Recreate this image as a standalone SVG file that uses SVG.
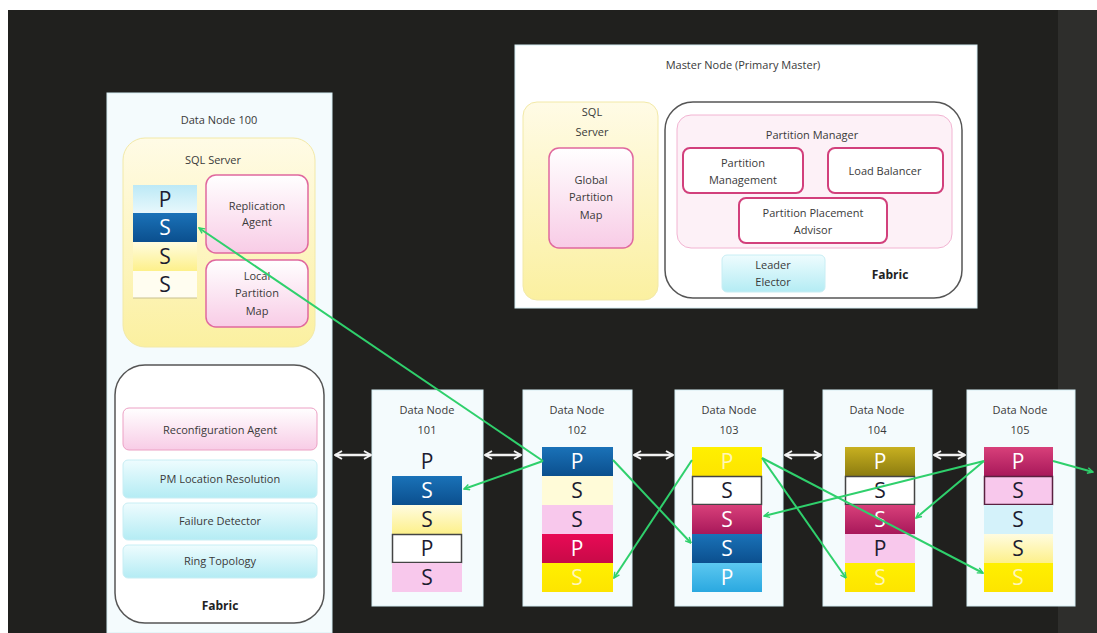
<svg xmlns="http://www.w3.org/2000/svg" width="1097" height="633" viewBox="0 0 1097 633">
<defs>
<style>
.t{font-family:"Open Sans","Liberation Sans",sans-serif;font-size:11px;fill:#3a3a3a;text-anchor:middle}
.tb{font-family:"Open Sans","Liberation Sans",sans-serif;font-size:12px;font-weight:bold;fill:#222;text-anchor:middle}
.L{font-family:"Open Sans","Liberation Sans",sans-serif;font-size:21px;text-anchor:middle;fill:#1c1c30}
.Lw{font-family:"Open Sans","Liberation Sans",sans-serif;font-size:21px;text-anchor:middle;fill:#ffffff}
.Lp{font-family:"Open Sans","Liberation Sans",sans-serif;font-size:21px;text-anchor:middle;fill:#fff6b8}
.node{fill:#f4fbfd;stroke:#d6eef4;stroke-width:1}
.pink{fill:url(#gPink);stroke:#e0689e;stroke-width:1.5}
.pinkW{fill:#ffffff;stroke:#d2407c;stroke-width:2}
.cyan{fill:url(#gCyan);stroke:#c8eef4;stroke-width:1}
.fab{fill:#ffffff;stroke:#555;stroke-width:1.5}
.g{stroke:#2fd06c;stroke-width:2;fill:none;marker-end:url(#ga)}
.w{stroke:#f2f2f2;stroke-width:2.5;fill:none;marker-start:url(#wa);marker-end:url(#wa)}
</style>
<marker id="ga" viewBox="0 0 10 10" refX="9" refY="5" markerWidth="7" markerHeight="7" orient="auto" markerUnits="userSpaceOnUse">
<path d="M1,1 L9,5 L1,9" fill="none" stroke="#2fd06c" stroke-width="2"/>
</marker>
<marker id="wa" viewBox="0 0 10 10" refX="9" refY="5" markerWidth="10" markerHeight="12" orient="auto-start-reverse" markerUnits="userSpaceOnUse">
<path d="M2,1 L9,5 L2,9" fill="none" stroke="#f2f2f2" stroke-width="2"/>
</marker>
<linearGradient id="gYel" x1="0" y1="0" x2="0" y2="1"><stop offset="0" stop-color="#fffbe6"/><stop offset="1" stop-color="#fbf0a0"/></linearGradient>
<linearGradient id="gPink" x1="0" y1="0" x2="0" y2="1"><stop offset="0" stop-color="#ffffff"/><stop offset="1" stop-color="#f8cce6"/></linearGradient>
<linearGradient id="gCyan" x1="0" y1="0" x2="0" y2="1"><stop offset="0" stop-color="#eefcfe"/><stop offset="1" stop-color="#b4ecf4"/></linearGradient>
<linearGradient id="cBlue" x1="0" y1="0" x2="0" y2="1"><stop offset="0" stop-color="#1a72b8"/><stop offset="1" stop-color="#0b4f8e"/></linearGradient>
<linearGradient id="cLY" x1="0" y1="0" x2="0" y2="1"><stop offset="0" stop-color="#fffce0"/><stop offset="1" stop-color="#fdf08a"/></linearGradient>
<linearGradient id="cY" x1="0" y1="0" x2="0" y2="1"><stop offset="0" stop-color="#fff000"/><stop offset="1" stop-color="#fde400"/></linearGradient>
<linearGradient id="cMag" x1="0" y1="0" x2="0" y2="1"><stop offset="0" stop-color="#d8407a"/><stop offset="1" stop-color="#a8185a"/></linearGradient>
<linearGradient id="cRed" x1="0" y1="0" x2="0" y2="1"><stop offset="0" stop-color="#e80a55"/><stop offset="1" stop-color="#c80a48"/></linearGradient>
<linearGradient id="cCy" x1="0" y1="0" x2="0" y2="1"><stop offset="0" stop-color="#5cc8f0"/><stop offset="1" stop-color="#2aa8e0"/></linearGradient>
<linearGradient id="cLC" x1="0" y1="0" x2="0" y2="1"><stop offset="0" stop-color="#bce9f6"/><stop offset="1" stop-color="#e8f8fc"/></linearGradient>
<linearGradient id="cOl" x1="0" y1="0" x2="0" y2="1"><stop offset="0" stop-color="#c8b020"/><stop offset="1" stop-color="#8c7c10"/></linearGradient>
</defs>

<rect x="0" y="0" width="1097" height="633" fill="#ffffff"/>
<rect x="8" y="10" width="1089" height="623" fill="#20201e"/>
<rect x="1058" y="10" width="39" height="623" fill="#2e2e2c"/>

<g id="datanode100">
<rect class="node" x="107" y="93" width="225" height="540"/>
<text class="t" x="219" y="124">Data Node 100</text>
<rect x="123" y="138" width="192" height="209" rx="22" fill="url(#gYel)" stroke="#f2e9a8"/>
<text class="t" x="213" y="164">SQL Server</text>
<rect x="133" y="185" width="64" height="28" fill="url(#cLC)"/>
<text class="L" x="165" y="207">P</text>
<rect x="133" y="213" width="64" height="29" fill="url(#cBlue)"/>
<text class="Lw" x="165" y="235">S</text>
<rect x="133" y="242" width="64" height="29" fill="url(#cLY)"/>
<text class="L" x="165" y="264">S</text>
<rect x="133" y="271" width="64" height="27" fill="#fffdf0"/>
<line x1="133" y1="298" x2="197" y2="298" stroke="#c8c090"/>
<text class="L" x="165" y="292">S</text>
<rect class="pink" x="206" y="175" width="102" height="78" rx="10"/>
<text class="t" x="257" y="210">Replication</text>
<text class="t" x="257" y="226">Agent</text>
<rect class="pink" x="206" y="260" width="102" height="67" rx="10"/>
<text class="t" x="257" y="280">Local</text>
<text class="t" x="257" y="297">Partition</text>
<text class="t" x="257" y="315">Map</text>
<rect class="fab" x="115" y="365" width="209" height="258" rx="30"/>
<rect x="123" y="408" width="194" height="42" rx="6" fill="url(#gPink)" stroke="#eca0c4"/>
<text class="t" x="220" y="434">Reconfiguration Agent</text>
<rect class="cyan" x="123" y="460" width="194" height="38" rx="5"/>
<text class="t" x="220" y="483">PM Location Resolution</text>
<rect class="cyan" x="123" y="503" width="194" height="37" rx="5"/>
<text class="t" x="220" y="525">Failure Detector</text>
<rect class="cyan" x="123" y="545" width="194" height="33" rx="5"/>
<text class="t" x="220" y="565">Ring Topology</text>
<text class="tb" x="220" y="610">Fabric</text>
</g>

<g id="masternode">
<rect x="515" y="45" width="462" height="263" fill="#ffffff" stroke="#d6eef4"/>
<text class="t" x="743" y="69">Master Node (Primary Master)</text>
<rect x="523" y="102" width="135" height="198" rx="14" fill="url(#gYel)" stroke="#f2e9a8"/>
<text class="t" x="592" y="116">SQL</text>
<text class="t" x="592" y="136">Server</text>
<rect class="pink" x="549" y="148" width="84" height="100" rx="10"/>
<text class="t" x="591" y="184">Global</text>
<text class="t" x="591" y="201">Partition</text>
<text class="t" x="591" y="219">Map</text>
<rect class="fab" x="665" y="102" width="297" height="196" rx="28"/>
<rect x="677" y="115" width="275" height="133" rx="14" fill="#fdf1f7" stroke="#f2b4d2"/>
<text class="t" x="812" y="139">Partition Manager</text>
<rect class="pinkW" x="683" y="148" width="120" height="45" rx="7"/>
<text class="t" x="743" y="167">Partition</text>
<text class="t" x="743" y="184">Management</text>
<rect class="pinkW" x="828" y="148" width="115" height="45" rx="7"/>
<text class="t" x="885" y="175">Load Balancer</text>
<rect class="pinkW" x="739" y="198" width="148" height="45" rx="7"/>
<text class="t" x="813" y="217">Partition Placement</text>
<text class="t" x="813" y="234">Advisor</text>
<rect class="cyan" x="722" y="255" width="103" height="37" rx="5"/>
<text class="t" x="773" y="269">Leader</text>
<text class="t" x="773" y="286">Elector</text>
<text class="tb" x="890" y="279">Fabric</text>
</g>

<g id="datanode101">
<rect class="node" x="372" y="390" width="111" height="216"/>
<text class="t" x="427" y="414">Data Node</text>
<text class="t" x="427" y="434">101</text>
<text class="L" x="427" y="469" fill="#301840">P</text>
<rect x="392" y="476" width="70" height="29" fill="url(#cBlue)"/>
<text class="Lw" x="427" y="498">S</text>
<rect x="392" y="505" width="70" height="29" fill="url(#cLY)"/>
<text class="L" x="427" y="527">S</text>
<rect x="392.5" y="534.5" width="69" height="28" fill="#ffffff" stroke="#444" stroke-width="1.5"/>
<text class="L" x="427" y="556">P</text>
<rect x="392" y="563" width="70" height="29" fill="#f8c8ec"/>
<text class="L" x="427" y="585">S</text>
</g>

<g id="datanode102">
<rect class="node" x="523" y="390" width="109" height="216"/>
<text class="t" x="577" y="414">Data Node</text>
<text class="t" x="577" y="434">102</text>
<rect x="542" y="447" width="71" height="29" fill="url(#cBlue)"/>
<text class="Lw" x="577" y="469">P</text>
<rect x="542" y="476" width="71" height="29" fill="#fffbd8"/>
<text class="L" x="577" y="498">S</text>
<rect x="542" y="505" width="71" height="29" fill="#f8c8ec"/>
<text class="L" x="577" y="527">S</text>
<rect x="542" y="534" width="71" height="29" fill="url(#cRed)"/>
<text class="Lw" x="577" y="556">P</text>
<rect x="542" y="563" width="71" height="29" fill="url(#cY)"/>
<text class="Lp" x="577" y="585">S</text>
</g>

<g id="datanode103">
<rect class="node" x="675" y="390" width="108" height="216"/>
<text class="t" x="729" y="414">Data Node</text>
<text class="t" x="729" y="434">103</text>
<rect x="692" y="447" width="70" height="29" fill="url(#cY)"/>
<text class="Lp" x="727" y="469">P</text>
<rect x="692.5" y="476.5" width="69" height="28" fill="#ffffff" stroke="#444" stroke-width="1.5"/>
<text class="L" x="727" y="498">S</text>
<rect x="692" y="505" width="70" height="29" fill="url(#cMag)"/>
<text class="Lw" x="727" y="527">S</text>
<rect x="692" y="534" width="70" height="29" fill="url(#cBlue)"/>
<text class="Lw" x="727" y="556">S</text>
<rect x="692" y="563" width="70" height="29" fill="url(#cCy)"/>
<text class="Lw" x="727" y="585">P</text>
</g>

<g id="datanode104">
<rect class="node" x="823" y="390" width="109" height="216"/>
<text class="t" x="877" y="414">Data Node</text>
<text class="t" x="877" y="434">104</text>
<rect x="845" y="447" width="70" height="29" fill="url(#cOl)"/>
<text class="Lw" x="880" y="469">P</text>
<rect x="845.5" y="476.5" width="69" height="28" fill="#ffffff" stroke="#444" stroke-width="1.5"/>
<text class="L" x="880" y="498">S</text>
<rect x="845" y="505" width="70" height="29" fill="url(#cMag)"/>
<text class="Lw" x="880" y="527">S</text>
<rect x="845" y="534" width="70" height="29" fill="#f8c8ec"/>
<text class="L" x="880" y="556">P</text>
<rect x="845" y="563" width="70" height="29" fill="url(#cY)"/>
<text class="Lp" x="880" y="585">S</text>
</g>

<g id="datanode105">
<rect class="node" x="967" y="390" width="108" height="216"/>
<text class="t" x="1020" y="414">Data Node</text>
<text class="t" x="1020" y="434">105</text>
<rect x="984" y="447" width="69" height="29" fill="url(#cMag)"/>
<text class="Lw" x="1018" y="469">P</text>
<rect x="984.5" y="476.5" width="68" height="28" fill="#f8c8ec" stroke="#5a2040" stroke-width="1.5"/>
<text class="L" x="1018" y="498">S</text>
<rect x="984" y="505" width="69" height="29" fill="#d4f2fa"/>
<text class="L" x="1018" y="527">S</text>
<rect x="984" y="534" width="69" height="29" fill="url(#cLY)"/>
<text class="L" x="1018" y="556">S</text>
<rect x="984" y="563" width="69" height="29" fill="url(#cY)"/>
<text class="Lp" x="1018" y="585">S</text>
</g>

<g id="connectors">
<line class="w" x1="335" y1="455" x2="371" y2="455"/>
<line class="w" x1="485" y1="455" x2="521" y2="455"/>
<line class="w" x1="634" y1="455" x2="673" y2="455"/>
<line class="w" x1="785" y1="455" x2="821" y2="455"/>
<line class="w" x1="934" y1="455" x2="965" y2="455"/>
<line class="g" x1="543" y1="461" x2="199" y2="228"/>
<line class="g" x1="543" y1="461" x2="464" y2="489"/>
<line class="g" x1="613" y1="460" x2="691" y2="543"/>
<line class="g" x1="692" y1="460" x2="614" y2="578"/>
<line class="g" x1="762" y1="458" x2="846" y2="578"/>
<line class="g" x1="762" y1="458" x2="983" y2="573"/>
<line class="g" x1="984" y1="461" x2="764" y2="516"/>
<line class="g" x1="984" y1="461" x2="916" y2="518"/>
<line class="g" x1="1053" y1="461" x2="1093" y2="472"/>
</g>
</svg>
